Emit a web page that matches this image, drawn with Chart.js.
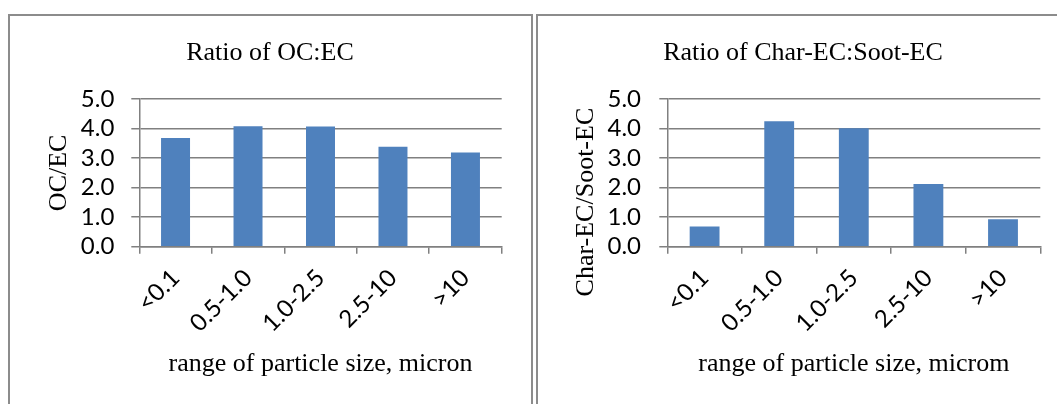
<!DOCTYPE html>
<html>
<head>
<meta charset="utf-8">
<script src="https://cdn.jsdelivr.net/npm/chart.js@4/dist/chart.umd.min.js"></script>
<style>
  html, body { margin: 0; padding: 0; background: #fff; width: 1057px; height: 404px; overflow: hidden; position: relative; }
  .box { position: absolute; border: 2px solid #8c8c8c; box-sizing: border-box; }
  canvas { position: absolute; }
</style>
</head>
<body>
<div class="box" style="left:8px; top:14px; width:525px; height:420px;"></div>
<div class="box" style="left:536px; top:14px; width:560px; height:420px;"></div>
<canvas id="c1" width="520" height="388" style="left:10px; top:16px;"></canvas>
<canvas id="c2" width="528" height="388" style="left:539px; top:16px;"></canvas>
<script>
// ---- data ----
const categories = ["<0.1", "0.5-1.0", "1.0-2.5", "2.5-10", ">10"];
const ocEcValues = [3.68, 4.08, 4.07, 3.38, 3.19];
const charSootValues = [0.68, 4.25, 4.01, 2.12, 0.93];
const yTicks = [0, 1, 2, 3, 4, 5];
const titleLeft = "Ratio of OC:EC";
const titleRight = "Ratio of Char-EC:Soot-EC";
const yTitleLeft = "OC/EC";
const yTitleRight = "Char-EC/Soot-EC";
const xTitleLeft = "range of particle size, micron";
const xTitleRight = "range of particle size, microm";

// ---- styles ----
const GRID = "#808080";
const BAR = "#4F81BD";
const SERIF = "'Liberation Serif', 'Times New Roman', serif";
const SANS = "Lato, 'Liberation Sans', sans-serif";

function makeChart(id, title, yTitle, xTitle, values, geo) {
  return new Chart(document.getElementById(id), {
    type: 'bar',
    data: {
      labels: categories,
      datasets: [{ data: values, backgroundColor: BAR, borderWidth: 0, categoryPercentage: 1, barPercentage: 0.4, yAxisID: 'y' }]
    },
    options: {
      responsive: false,
      animation: false,
      layout: { padding: 0 },
      plugins: {
        legend: { display: false },
        tooltip: { enabled: false },
        title: {
          display: true, text: title, color: '#000',
          font: { family: SERIF, size: 26, weight: 'normal', lineHeight: 1.2 },
          padding: { top: 22, bottom: 29.8 }
        }
      },
      scales: {
        x: {
          grid: { display: true, drawOnChartArea: false, drawTicks: true, tickLength: 7, color: GRID, lineWidth: 1.5, offset: true },
          border: { display: true, color: GRID, width: 1.5 },
          ticks: { color: '#000', font: { family: SANS, size: 24 }, minRotation: 45, maxRotation: 45, autoSkip: false, padding: 10 },
          title: { display: true, text: xTitle, color: '#000', font: { family: SERIF, size: 26, weight: 'normal', lineHeight: 1.2 }, padding: { top: 0, bottom: 24.4 } },
          afterFit: s => { s.height = 157.3; }
        },
        y: {
          position: 'left',
          min: 0, max: 5,
          afterBuildTicks: s => { s.ticks = yTicks.map(v => ({ value: v })); },
          grid: { color: GRID, lineWidth: 1.5, drawTicks: true, tickLength: 8 },
          border: { display: true, color: GRID, width: 1.5 },
          ticks: { color: '#000', font: { family: SANS, size: 24 }, padding: geo.yPad, autoSkip: false, callback: v => Number(v).toFixed(1) },
          title: { display: true, text: yTitle, color: '#000', font: { family: SERIF, size: 26, weight: 'normal', lineHeight: 1.2 }, padding: { top: geo.yTitlePad, bottom: 0 } },
          afterFit: s => { s.width = geo.yWidth; }
        },
        spacer: {
          type: 'linear', position: 'right', display: true,
          grid: { display: false, drawTicks: false },
          border: { display: false },
          ticks: { display: false },
          afterFit: s => { s.width = geo.padRight; }
        }
      }
    }
  });
}

makeChart('c1', titleLeft, yTitleLeft, xTitleLeft, ocEcValues, { padRight: 28.3, yWidth: 129.3, yPad: 17, yTitlePad: 33.6 });
makeChart('c2', titleRight, yTitleRight + "\u00A0".repeat(9), xTitleRight, charSootValues, { padRight: 26.7, yWidth: 128.3, yPad: 18.3, yTitlePad: 31.4 });
</script>
</body>
</html>
